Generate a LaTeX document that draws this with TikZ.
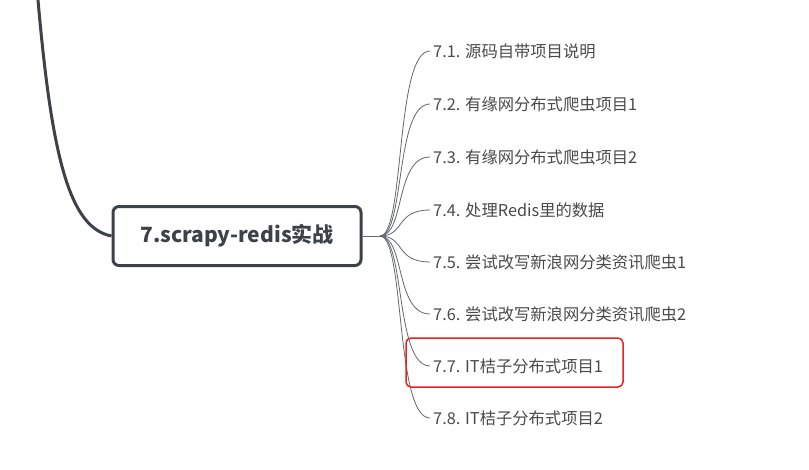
\documentclass[tikz,border=0pt]{standalone}
\usepackage{fontspec}
\setmainfont{Noto Sans CJK SC}
\begin{document}
\begin{tikzpicture}[x=1pt,y=-1pt,
  main/.style={draw=edge,line width=3pt,rounded corners=6pt,fill=white,minimum width=248pt,minimum height=59pt,font=\fontsize{21}{24}\selectfont\bfseries,text=edge},
  leaf/.style={anchor=west,inner sep=0pt,font=\fontsize{16.3}{18}\selectfont,text=leaftxt},
  br/.style={draw=edge!80,line width=0.8pt}]
\definecolor{edge}{HTML}{3D4148}
\definecolor{leaftxt}{HTML}{4A4A4A}
\definecolor{hl}{HTML}{E8231F}
\useasboundingbox[fill=white] (0,0) rectangle (809,469);
\coordinate (top) at (38,0);
\node[main] (m) at (237,236) {7.scrapy-redis实战};
\draw[edge,line width=3pt] (top) .. controls (52,160) and (70,228) .. (m.west);
\coordinate (hub) at (380,236);
\draw[br] (m.east) -- (hub);
\foreach \i/\y/\t in {1/51/7.1. 源码自带项目说明,2/104/7.2. 有缘网分布式爬虫项目1,3/157/7.3. 有缘网分布式爬虫项目2,4/210/7.4. 处理Redis里的数据,5/262/7.5. 尝试改写新浪网分类资讯爬虫1,6/314/7.6. 尝试改写新浪网分类资讯爬虫2,7/366/7.7. IT桔子分布式项目1,8/418/7.8. IT桔子分布式项目2}{
  \node[leaf] (c\i) at (433,\y) {\t};
  \draw[br] (hub) .. controls (405,236) and (395,\y) .. ([xshift=-3pt]c\i.west);
}
\draw[hl,line width=1.5pt,rounded corners=5pt] (406,338) rectangle (623,387);
\end{tikzpicture}
\end{document}
